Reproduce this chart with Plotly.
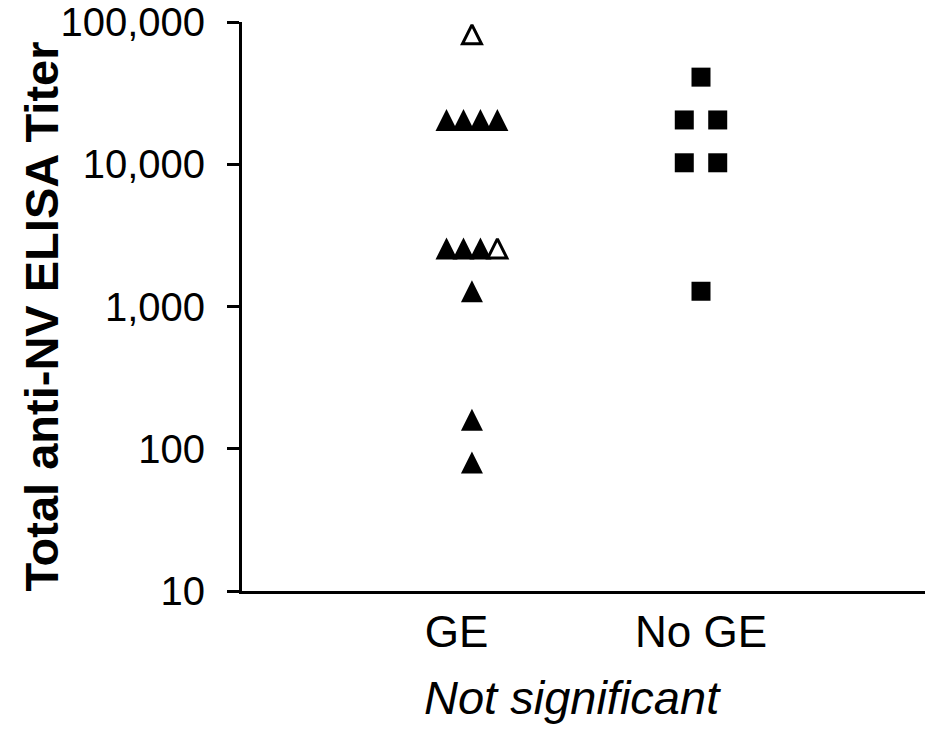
import plotly.graph_objects as go

# Categories and titer values (reciprocal dilutions)
groups = ["GE", "No GE"]
ge_filled = [20480, 20480, 20480, 20480, 2560, 2560, 2560, 1280, 160, 80]
ge_open = [81920, 2560]
no_ge = [40960, 20480, 20480, 10240, 10240, 1280]

y_tickvals = [10, 100, 1000, 10000, 100000]
y_ticktext = ["10", "100", "1,000", "10,000", "100,000"]

FONT = "Arial, Liberation Sans, sans-serif"
GROUP_POS = {g: i + 1 for i, g in enumerate(groups)}
LABEL_POS = [0.933, 2.0]                 # category label anchors on the x axis
SPREAD = {"GE": 0.074, "No GE": 0.146}   # horizontal spacing of tied values


def spread_points(group, records):
    """records: list of (value, kind). Tied values are fanned out side by side."""
    rows = {}
    for v, kind in records:
        rows.setdefault(v, []).append(kind)
    out = {}
    centre = GROUP_POS[group]
    for v, kinds in rows.items():
        n = len(kinds)
        for i, kind in enumerate(kinds):
            x = centre + (i - (n - 1) / 2) * SPREAD[group]
            out.setdefault(kind, ([], []))
            out[kind][0].append(x)
            out[kind][1].append(v)
    return out


ge_recs = [(v, "filled") for v in ge_filled] + [(v, "open") for v in ge_open]
ge_pts = spread_points("GE", ge_recs)
no_pts = spread_points("No GE", [(v, "square") for v in no_ge])

fig = go.Figure()

# Up-pointing triangles centred on the value (arrow-down turned 180°, shifted by half its size)
TRI = 22
fig.add_trace(go.Scatter(
    x=ge_pts["filled"][0], y=ge_pts["filled"][1], mode="markers",
    marker=dict(symbol="arrow-down", size=TRI, angle=180, standoff=TRI / 2,
                color="black", line=dict(width=0)),
    showlegend=False, hoverinfo="y"))
OTRI = 19
fig.add_trace(go.Scatter(
    x=ge_pts["open"][0], y=ge_pts["open"][1], mode="markers",
    marker=dict(symbol="arrow-down", size=OTRI, angle=180, standoff=OTRI / 2,
                color="white", line=dict(width=3, color="black")),
    showlegend=False, hoverinfo="y"))
fig.add_trace(go.Scatter(
    x=no_pts["square"][0], y=no_pts["square"][1], mode="markers",
    marker=dict(symbol="square", size=19, color="black", line=dict(width=0)),
    showlegend=False, hoverinfo="y"))

# Axis title drawn as a rotated annotation so it can sit close to the tick labels
fig.add_annotation(
    text="<b>Total anti-NV ELISA Titer</b>", textangle=-90,
    x=-0.293, xref="paper", y=0.482, yref="paper",
    showarrow=False, xanchor="center", yanchor="middle",
    font=dict(family=FONT, size=47, color="black"))

fig.add_annotation(
    text="<i>Not significant</i>", x=1.44, xref="x", y=-0.187, yref="paper",
    showarrow=False, xanchor="center", yanchor="middle",
    font=dict(family=FONT, size=47, color="black"))

fig.update_layout(
    width=925, height=745,
    margin=dict(l=242, r=0, t=22, b=154, pad=0),
    plot_bgcolor="white", paper_bgcolor="white",
    font=dict(family=FONT, color="black"),
    xaxis=dict(
        range=[-0.004, 2.978], tickvals=LABEL_POS, ticktext=groups,
        ticks="", showgrid=False, zeroline=False, showline=True,
        linecolor="black", linewidth=3, tickfont=dict(size=44, family=FONT),
        ticklabelstandoff=0),
    yaxis=dict(
        type="log", range=[1, 5], tickvals=y_tickvals, ticktext=y_ticktext,
        ticks="outside", ticklen=12, tickwidth=3, tickcolor="black",
        showgrid=False, zeroline=False, showline=True,
        linecolor="black", linewidth=3, tickfont=dict(size=40, family=FONT),
        ticklabelstandoff=14),
)

fig.write_html("out.html")
